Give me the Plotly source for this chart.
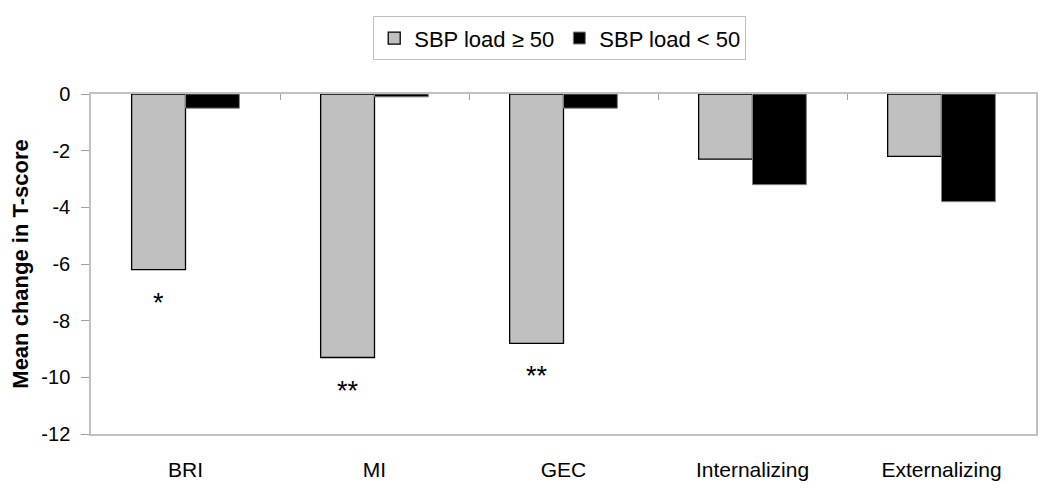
import plotly.graph_objects as go

categories = ["BRI", "MI", "GEC", "Internalizing", "Externalizing"]
high_load = [-6.2, -9.3, -8.8, -2.3, -2.2]
low_load = [-0.5, -0.1, -0.5, -3.2, -3.8]
significance = ["*", "**", "**", "", ""]
series_names = ["SBP load \u2265 50", "SBP load < 50"]
y_ticks = [0, -2, -4, -6, -8, -10, -12]

FONT = "Liberation Sans, Arial, sans-serif"

fig = go.Figure()
fig.add_trace(go.Bar(
    x=categories, y=high_load, name=series_names[0],
    marker=dict(color="#C0C0C0", line=dict(color="#000000", width=1.3)),
))
fig.add_trace(go.Bar(
    x=categories, y=low_load, name=series_names[1],
    marker=dict(color="#000000", line=dict(color="#808080", width=1)),
))
# invisible helper so the top (category-boundary) tick axis is drawn
boundaries = [i + 0.5 for i in range(len(categories) - 1)]
fig.add_trace(go.Scatter(
    x=boundaries, y=[0] * len(boundaries), xaxis="x2", mode="markers",
    marker=dict(opacity=0), showlegend=False, hoverinfo="skip",
))

for cat, sig, val in zip(categories, significance, high_load):
    if sig:
        fig.add_annotation(
            x=cat, y=val, text=sig, showarrow=False,
            xshift=-27, yshift=-33, yanchor="middle",
            font=dict(family=FONT, size=27, color="#000000"),
        )

# page body has an 8px margin, so the figure is sized/offset to compensate
fig.update_layout(
    width=1042, height=484,
    margin=dict(l=83, r=14, t=86, b=58, autoexpand=False),
    paper_bgcolor="white", plot_bgcolor="white",
    barmode="group", bargap=0.43, bargroupgap=0,
    font=dict(family=FONT, size=21, color="#000000"),
    showlegend=True,
    legend=dict(
        orientation="h", x=0.496, xanchor="center", y=0.983, yanchor="top",
        yref="container",
        bordercolor="#C0C0C0", borderwidth=1, bgcolor="white",
        font=dict(family=FONT, size=22),
        itemwidth=30, traceorder="normal",
    ),
    xaxis=dict(
        type="category", showgrid=False, zeroline=False,
        showline=True, linecolor="#C0C0C0", linewidth=1.5, mirror=True,
        ticks="", tickfont=dict(family=FONT, size=21),
        ticklabelstandoff=16,
    ),
    xaxis2=dict(
        overlaying="x", side="top", anchor="y", range=[-0.5, 4.5],
        tickvals=boundaries, showticklabels=False,
        ticks="inside", ticklen=6, tickcolor="#A0A0A0", tickwidth=1,
        showgrid=False, zeroline=False, showline=False,
    ),
    yaxis=dict(
        range=[-12, 0], tickvals=y_ticks, ticktext=[str(v) for v in y_ticks],
        showgrid=False, zeroline=False,
        showline=True, linecolor="#C0C0C0", linewidth=1.5, mirror=True,
        ticks="outside", ticklen=8, tickcolor="#A0A0A0",
        tickfont=dict(family=FONT, size=20), ticklabelstandoff=7,
        title=dict(text="<b>Mean change in T-score</b>",
                   font=dict(family=FONT, size=22), standoff=22),
    ),
)

fig.write_html("out.html")
